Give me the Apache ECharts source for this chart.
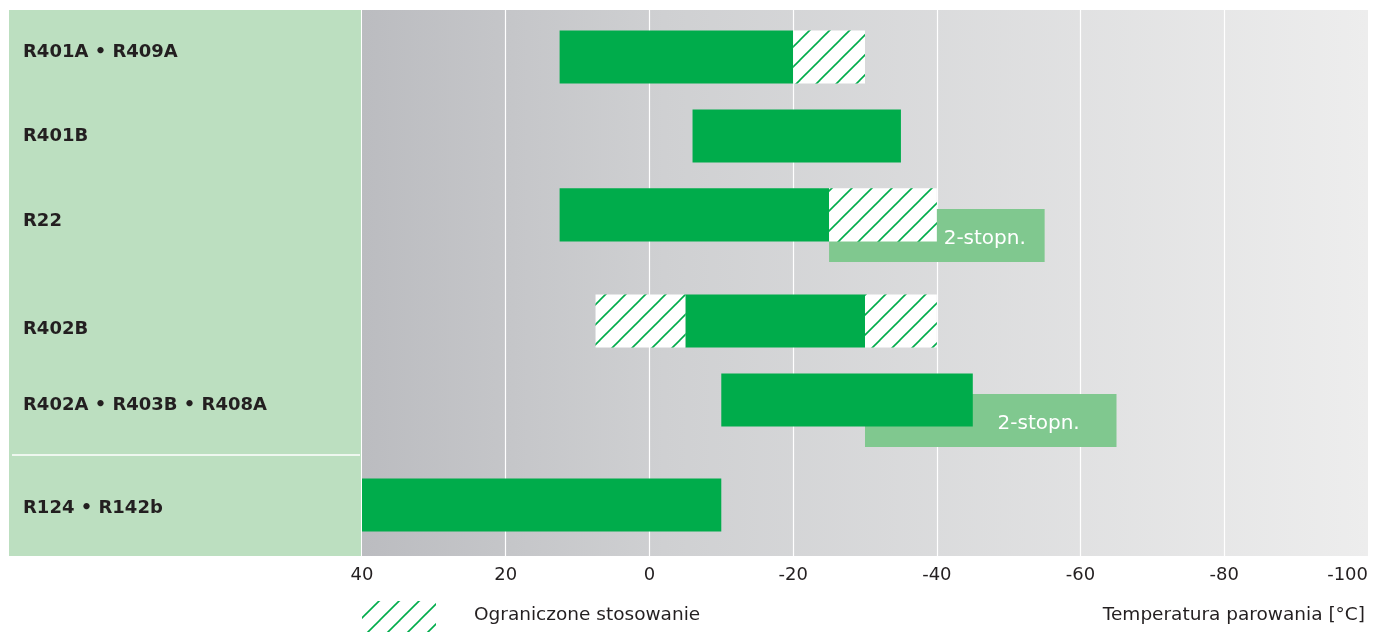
<!DOCTYPE html>
<html>
<head>
<meta charset="utf-8">
<script src="https://cdn.jsdelivr.net/npm/echarts@6/dist/echarts.min.js"></script>
<style>
  html, body { margin: 0; padding: 0; background: #ffffff; }
  #chart { width: 1379px; height: 632px; }
</style>
</head>
<body>
<div id="chart"></div>
<script>
// ---------- DATA ----------
const categories = ['R401A \u2022 R409A', 'R401B', 'R22', 'R402B', 'R402A \u2022 R403B \u2022 R408A', 'R124 \u2022 R142b'];
// full-use range per refrigerant [from, to] in °C
const solidRanges = [[12.5, -20], [-6, -35], [12.5, -25], [-5, -30], [-10, -45], [40, -10]];
// restricted-use ranges (hatched)
const restrictedRanges = [[[-20, -30]], [], [[-25, -40]], [[7.5, -5], [-30, -40]], [], []];
// two-stage ranges
const twoStageRanges = [null, null, [-25, -55], null, [-30, -65], null];
const twoStageLabel = '2-stopn.';
const legendLabel = 'Ograniczone stosowanie';
const axisTitle = 'Temperatura parowania [\u00B0C]';
const xMin = -100, xMax = 40, xStep = 20;

// ---------- LAYOUT (not data) ----------
const Y_SLOTS = 21;
const ROW_CENTER = [1.81, 4.85, 7.88, 11.96, 15.0, 19.04];
const LABEL_CENTER = [1.62, 4.85, 8.12, 12.27, 15.19, 19.15];
const BAR_HALF = 1.02;
const TWO_OFFSET = 0.79;

const GREEN = '#00ac4b';
const LIGHT = '#80c88f';
const PANEL = '#bcdfc0';
const TEXT = '#231f20';

// hatch pattern
const hatch = document.createElement('canvas');
hatch.width = 20; hatch.height = 20;
(function () {
  const c = hatch.getContext('2d');
  c.fillStyle = '#ffffff';
  c.fillRect(0, 0, 20, 20);
  c.strokeStyle = GREEN;
  c.lineWidth = 1.6;
  [0, 20, 40].forEach(function (k) {
    c.beginPath();
    c.moveTo(k - 25, 25);
    c.lineTo(k + 5, -5);
    c.stroke();
  });
})();
const hatchFill = { image: hatch, repeat: 'repeat' };

// build series data
const solidData = solidRanges.map(function (r, i) { return [i, r[0], r[1]]; });
const restrictedData = [];
restrictedRanges.forEach(function (list, i) {
  list.forEach(function (r) { restrictedData.push([i, r[0], r[1]]); });
});
const twoStageData = [];
twoStageRanges.forEach(function (r, i) { if (r) twoStageData.push([i, r[0], r[1]]); });
const labelData = categories.map(function (c, i) { return [i, xMax, xMax]; });

function rowExtent(i) {
  let m = solidRanges[i][1];
  restrictedRanges[i].forEach(function (r) { m = Math.min(m, r[0], r[1]); });
  return m;
}

function makeRender(kind) {
  return function (params, api) {
    const row = api.value(0);
    const a = api.value(1), b = api.value(2);
    const c = ROW_CENTER[row] + (kind === 'two' ? TWO_OFFSET : 0);
    const p0 = api.coord([a, c - BAR_HALF]);
    const p1 = api.coord([b, c + BAR_HALF]);
    const x = Math.min(p0[0], p1[0]), w = Math.abs(p1[0] - p0[0]);
    const y = Math.min(p0[1], p1[1]), h = Math.abs(p1[1] - p0[1]);
    const rect = {
      type: 'rect',
      shape: { x: x, y: y, width: w, height: h },
      style: { fill: kind === 'solid' ? GREEN : (kind === 'two' ? LIGHT : hatchFill) }
    };
    if (kind !== 'two') return rect;
    const e = api.coord([rowExtent(row), c])[0];
    const tx = (e + Math.max(p0[0], p1[0])) / 2 - 6;
    return {
      type: 'group',
      children: [rect, {
        type: 'text',
        style: {
          x: tx, y: (p0[1] + p1[1]) / 2 + 3,
          text: twoStageLabel,
          fill: '#ffffff',
          font: '20px "DejaVu Sans"',
          align: 'center', verticalAlign: 'middle'
        }
      }]
    };
  };
}

function renderLabel(params, api) {
  const row = api.value(0);
  const p = api.coord([xMax, LABEL_CENTER[row]]);
  return {
    type: 'text',
    style: {
      x: 23, y: p[1],
      text: categories[row],
      fill: TEXT,
      font: 'bold 18px "DejaVu Sans"',
      align: 'left', verticalAlign: 'middle'
    }
  };
}

const chart = echarts.init(document.getElementById('chart'), null, { renderer: 'canvas' });
chart.setOption({
  animation: false,
  backgroundColor: '#ffffff',
  grid: {
    left: 362, right: 11, top: 10, bottom: 76,
    show: true, borderWidth: 0,
    backgroundColor: {
      type: 'linear', x: 0, y: 0, x2: 1, y2: 0,
      colorStops: [
        { offset: 0, color: '#bbbcc0' },
        { offset: 0.3, color: '#cfd0d2' },
        { offset: 1, color: '#ededed' }
      ]
    }
  },
  xAxis: {
    type: 'value',
    inverse: true,
    min: xMin, max: xMax, interval: xStep,
    axisLine: { show: false },
    axisTick: { show: false },
    splitLine: { show: true, showMinLine: false, showMaxLine: false, lineStyle: { color: '#ffffff', width: 1.2 } },
    axisLabel: {
      margin: 10,
      color: TEXT,
      fontFamily: 'DejaVu Sans',
      fontSize: 18,
      showMinLabel: true, showMaxLabel: true,
      alignMinLabel: 'right'
    }
  },
  yAxis: {
    type: 'value',
    inverse: true,
    min: 0, max: Y_SLOTS,
    show: false,
    splitLine: { show: false }
  },
  graphic: [
    { type: 'rect', z: -10, shape: { x: 9, y: 10, width: 352, height: 546 }, style: { fill: PANEL } },
    { type: 'line', z: -9, shape: { x1: 12, y1: 455, x2: 360, y2: 455 }, style: { stroke: '#ffffff', lineWidth: 1.5 } },
    { type: 'rect', shape: { x: 362, y: 601, width: 74, height: 31 }, style: { fill: hatchFill } },
    { type: 'text', style: { x: 474, y: 615, text: legendLabel, fill: TEXT, font: '18.5px "DejaVu Sans"', verticalAlign: 'middle', align: 'left' } },
    { type: 'text', style: { x: 1365, y: 615, text: axisTitle, fill: TEXT, font: '18.5px "DejaVu Sans"', verticalAlign: 'middle', align: 'right' } }
  ],
  series: [
    { type: 'custom', name: 'two', data: twoStageData, encode: { x: [1, 2] }, renderItem: makeRender('two'), z: 2 },
    { type: 'custom', name: 'solid', data: solidData, encode: { x: [1, 2] }, renderItem: makeRender('solid'), z: 3 },
    { type: 'custom', name: 'restricted', data: restrictedData, encode: { x: [1, 2] }, renderItem: makeRender('hatch'), z: 4 },
    { type: 'custom', name: 'labels', data: labelData, renderItem: renderLabel, clip: false, z: 5 }
  ]
});
</script>
</body>
</html>
